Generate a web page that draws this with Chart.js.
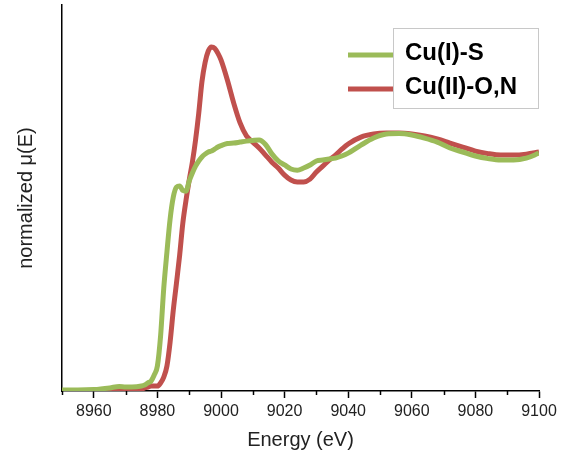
<!DOCTYPE html>
<html><head><meta charset="utf-8">
<script src="https://cdn.jsdelivr.net/npm/chart.js@4.4.0/dist/chart.umd.min.js"></script>
<style>html,body{margin:0;padding:0;background:#fff}#wrap{width:571px;height:459px;position:relative}</style>
</head><body><div id="wrap"><canvas id="c"></canvas></div>
<script>
const energy = [8950,8955,8960,8965,8968,8970,8972,8975,
  8976,8977,8978,8979,8980,8981,8982,8983,8984,8985,8986,8987,8988,8989,8990,8991,8992,8993,8994,8995,8996,8997,8998,8999,9000,
  9002,9004,9006,9008,9010,9012,9014,9016,9018,9020,9022,9024,9026,9028,9030,9032,9034,9036,9038,9040,
  9044,9048,9052,9056,9060,9064,9068,9072,9076,9080,9084,9088,9092,9096,9100];
const cuI_S = [0.004,0.004,0.006,0.013,0.019,0.017,0.017,0.021,
  0.025,0.034,0.042,0.068,0.106,0.233,0.436,0.589,0.729,0.822,0.864,0.869,0.850,0.847,0.890,0.924,0.953,0.975,0.992,1.004,1.013,1.017,1.025,1.034,1.040,
  1.049,1.051,1.055,1.059,1.062,1.064,1.045,1.005,0.975,0.958,0.941,0.936,0.945,0.958,0.975,0.979,0.983,0.987,0.996,1.008,
  1.042,1.072,1.089,1.091,1.085,1.072,1.055,1.030,1.013,0.996,0.985,0.979,0.979,0.987,1.008];
const cuII_ON = [0.002,0.002,0.002,0.004,0.004,0.004,0.006,0.008,
  0.013,0.017,0.021,0.021,0.021,0.034,0.059,0.106,0.208,0.343,0.458,0.576,0.712,0.809,0.894,0.970,1.064,1.177,1.310,1.392,1.441,1.458,1.453,1.432,1.403,
  1.318,1.220,1.136,1.081,1.055,1.030,1.000,0.970,0.945,0.915,0.894,0.886,0.886,0.898,0.928,0.953,0.979,1.000,1.025,1.047,
  1.076,1.089,1.093,1.093,1.089,1.081,1.068,1.051,1.034,1.017,1.006,1.000,1.000,1.004,1.013];
const seriesLabels = ['Cu(I)-S', 'Cu(II)-O,N'];
const seriesColors = ['#9BBB59', '#C0504D'];
const majorTicks = [8960,8980,9000,9020,9040,9060,9080,9100];
const minorTicks = [8950,8970,8990,9010,9030,9050,9070,9090];

const FONT = '"Liberation Sans", Arial, sans-serif';

const minorTickPlugin = {
  id: 'minorTicks',
  afterDraw(chart) {
    const ctx = chart.ctx, xs = chart.scales.x;
    ctx.save();
    ctx.strokeStyle = '#000';
    ctx.lineWidth = 1.5;
    minorTicks.forEach(v => {
      const px = Math.round(xs.getPixelForValue(v)) + 0.5;
      ctx.beginPath();
      ctx.moveTo(px, xs.top);
      ctx.lineTo(px, xs.top + 4);
      ctx.stroke();
    });
    ctx.restore();
  }
};

const legendPlugin = {
  id: 'boxLegend',
  afterDraw(chart) {
    const ctx = chart.ctx, ca = chart.chartArea;
    const boxL = ca.right - 146, boxT = 28, boxW = 145, boxH = 80;
    const rowsY = [54, 88];
    ctx.save();
    chart.data.datasets.forEach((ds, i) => {
      ctx.strokeStyle = ds.borderColor;
      ctx.lineWidth = 5;
      ctx.beginPath();
      ctx.moveTo(boxL - 45, rowsY[i] + 1);
      ctx.lineTo(boxL, rowsY[i] + 1);
      ctx.stroke();
    });
    ctx.fillStyle = '#fff';
    ctx.fillRect(boxL, boxT, boxW, boxH);
    ctx.strokeStyle = '#c8c8c8';
    ctx.lineWidth = 1;
    ctx.strokeRect(boxL + 0.5, boxT + 0.5, boxW, boxH);
    ctx.fillStyle = '#000';
    ctx.font = 'bold 24px ' + FONT;
    ctx.textBaseline = 'middle';
    ctx.textAlign = 'left';
    chart.data.datasets.forEach((ds, i) => {
      ctx.fillText(ds.label, boxL + 12, rowsY[i] - 1);
    });
    ctx.restore();
  }
};

new Chart(document.getElementById('c'), {
  type: 'line',
  data: {
    datasets: [
      { label: seriesLabels[0], data: energy.map((e, i) => ({x: e, y: cuI_S[i]})),
        borderColor: seriesColors[0], borderWidth: 5, pointRadius: 0, cubicInterpolationMode: 'monotone', fill: false },
      { label: seriesLabels[1], data: energy.map((e, i) => ({x: e, y: cuII_ON[i]})),
        borderColor: seriesColors[1], borderWidth: 5, pointRadius: 0, cubicInterpolationMode: 'monotone', fill: false }
    ]
  },
  options: {
    responsive: true,
    maintainAspectRatio: false,
    animation: false,
    layout: { padding: { left: 0, right: 32, top: 5, bottom: 0 } },
    plugins: { legend: { display: false }, tooltip: { enabled: false } },
    scales: {
      x: {
        type: 'linear', min: 8950, max: 9100,
        afterBuildTicks: s => { s.ticks = majorTicks.map(v => ({ value: v })); },
        afterFit: s => { s.height = 68; },
        ticks: { callback: v => String(v), color: '#222', font: { family: FONT, size: 16 }, padding: 4, maxRotation: 0, autoSkip: false },
        grid: { drawOnChartArea: false, drawTicks: true, tickLength: 7, tickColor: '#000', tickWidth: 1.5 },
        border: { color: '#000', width: 1.5 },
        title: { display: true, text: 'Energy (eV)', color: '#222', font: { family: FONT, size: 20 }, padding: { top: 0, bottom: 7 } }
      },
      y: {
        type: 'linear', min: 0, max: 1.636,
        afterFit: s => { s.width = 62; },
        ticks: { display: false },
        grid: { display: true, drawOnChartArea: false, drawTicks: false },
        border: { color: '#000', width: 1.5 },
        title: { display: true, text: 'normalized μ(E)', color: '#222', font: { family: FONT, size: 20 }, padding: { top: 14, bottom: 0 } }
      }
    }
  },
  plugins: [minorTickPlugin, legendPlugin]
});
</script>
</body></html>
